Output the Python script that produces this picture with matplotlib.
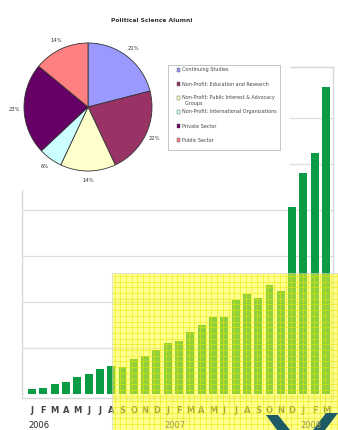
import numpy as np
import matplotlib
matplotlib.use("Agg")
import matplotlib.pyplot as plt
from matplotlib.patches import Rectangle, Polygon

# bar chart data (monthly, Jan 2006 - Mar 2008)
months = ["J", "F", "M", "A", "M", "J", "J", "A", "S", "O", "N", "D",
          "J", "F", "M", "A", "M", "J", "J", "A", "S", "O", "N", "D",
          "J", "F", "M"]
values = [11, 13, 22, 26, 37, 43, 54, 61, 59, 76, 83, 96,
          111, 115, 135, 150, 167, 167, 204, 217, 209, 237, 224, 407,
          480, 524, 667]
years = ["2006", "2007", "2008"]
year_start = [0, 12, 24]

# pie chart data
pie_title = "Political Science Alumni"
sectors = ["Continuing Studies",
           "Non-Profit: Education and Research",
           "Non-Profit: Public Interest & Advocacy\n  Groups",
           "Non-Profit: International Organizations",
           "Private Sector",
           "Public Sector"]
shares = [21, 22, 14, 6, 23, 14]
sector_colors = ["#9999ff", "#993366", "#ffffcc", "#ccffff", "#660066", "#ff8080"]

W, H = 338, 430
fig = plt.figure(figsize=(W / 100, H / 100), dpi=100)
fig.patch.set_facecolor("white")


def rect(l, t, r, b):
    return [l / W, 1 - b / H, (r - l) / W, (b - t) / H]


# ---- bar chart panel
ax = fig.add_axes(rect(22, 67, 333, 398), zorder=1)
x = np.arange(len(values))
ax.bar(x, values, width=0.7, color="#0a9b45", zorder=2)
ax.set_xlim(-0.884, 26.616)
ax.set_ylim(-9, 711)
ax.set_yticks(range(100, 601, 100))
ax.yaxis.grid(True, color="#dddddd", linewidth=0.9)
ax.set_axisbelow(True)
ax.tick_params(axis="y", length=0, labelleft=False)
ax.set_xticks(x)
ax.set_xticklabels(months, fontsize=6, fontweight="bold", color="#444444")
ax.tick_params(axis="x", length=0, pad=6)
for s in ax.spines.values():
    s.set_color("#d8d8d8")
    s.set_linewidth(1)

# ---- decorations (pie background, legend, yellow overlay)
deco = fig.add_axes([0, 0, 1, 1], zorder=2)
deco.set_xlim(0, W)
deco.set_ylim(H, 0)
deco.axis("off")
deco.patch.set_alpha(0)

deco.add_patch(Rectangle((0, 0), 290, 190, facecolor="white", edgecolor="none"))
deco.text(152, 21, pie_title, ha="center", va="center", fontsize=4.3,
          fontweight="bold", color="#333333")

# legend box
deco.add_patch(Rectangle((168, 65), 112, 85, facecolor="white",
                         edgecolor="#bbbbbb", linewidth=0.6))
leg_y = [70, 84, 100.5, 112, 126, 140]
for lab, col, ly in zip(sectors, sector_colors, leg_y):
    my = 98 if "Groups" in lab else ly
    deco.add_patch(Rectangle((176.5, my - 1.6), 3.2, 3.2, facecolor=col,
                             edgecolor="#555555", linewidth=0.3))
    deco.text(181.5, ly, lab, ha="left", va="center", fontsize=3.5,
              color="#444444", linespacing=1.1)

# yellow overlay
deco.add_patch(Rectangle((112, 273), 230, 160, facecolor="#ffff33",
                         alpha=0.55, edgecolor="#cccccc", linewidth=0.8))
for gx in np.arange(114.5, 338, 5.7):
    deco.plot([gx, gx], [273.5, 430], color="#e6e600", linewidth=0.45, alpha=0.8)
for gy in np.arange(276, 430, 5.7):
    deco.plot([112.5, 338], [gy, gy], color="#e6e600", linewidth=0.45, alpha=0.8)

# year labels (under the overlay, except where they sit on the dark shape)
for yr, i0 in zip(years, year_start):
    px = ax.transData.transform((i0 - 0.3, 0))[0]
    if yr == "2006":
        deco.text(px, 425, yr, ha="left", va="center", fontsize=6,
                  color="#222222", zorder=0)
    else:
        deco.text(px, 425, yr, ha="left", va="center", fontsize=6,
                  color="#9a9a50", zorder=5)

# dark teal shape at bottom right
deco.add_patch(Polygon([(266, 415), (278, 415), (290, 430), (277, 430)],
                       closed=True, facecolor="#1d5a66", edgecolor="none", zorder=4))
deco.add_patch(Polygon([(326, 413), (338, 413), (325, 430), (313, 430)],
                       closed=True, facecolor="#1d5a66", edgecolor="none", zorder=4))

# ---- pie chart
pax = fig.add_axes(rect(24, 43, 152, 171), zorder=3)
wedges, texts = pax.pie(shares, colors=sector_colors, startangle=90,
                        counterclock=False,
                        labels=[f"{v}%" for v in shares], labeldistance=1.15,
                        wedgeprops=dict(edgecolor="#333333", linewidth=0.6),
                        textprops=dict(fontsize=3.8, color="#333333"))
for t in texts:
    t.set_ha("center")
    t.set_va("center")
pax.set_xlim(-1, 1)
pax.set_ylim(-1, 1)

fig.savefig("out.png", dpi=100)
